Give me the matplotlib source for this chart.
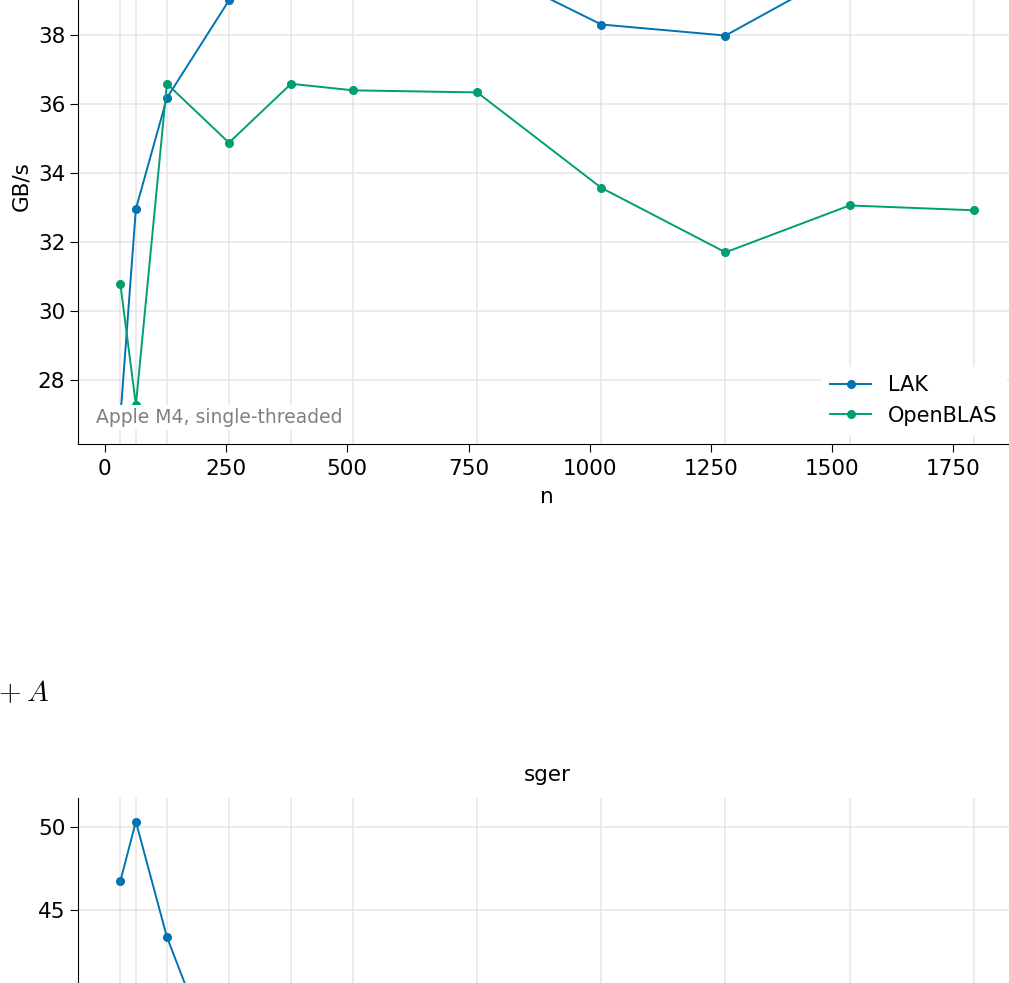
import matplotlib
matplotlib.use("Agg")
import matplotlib.pyplot as plt

# problem sizes
n = [32, 64, 128, 256, 384, 512, 768, 1024, 1280, 1536, 1792]

# sgemv throughput, GB/s (upper panel; top of it is outside the crop)
sgemv_lak = [26.9, 32.95, 36.17, 39.0, 40.3, 40.45, 40.08, 38.3, 37.98, 39.96, 40.2]
sgemv_openblas = [30.77, 27.26, 36.58, 34.87, 36.58, 36.39, 36.33, 33.56, 31.69, 33.05, 32.91]

# sger throughput, GB/s (lower panel; mostly outside the crop)
sger_lak = [46.75, 50.3, 43.4, 33.8, 31.5, 30.2, 29.0, 27.5, 26.8, 26.2, 25.9]
sger_openblas = [38.5, 39.6, 36.0, 31.0, 28.5, 27.6, 26.4, 25.0, 23.8, 23.1, 22.6]

series_names = ["LAK", "OpenBLAS"]
colors = ["#0173B2", "#029E73"]
note = "Apple M4, single-threaded"

W, H = 1009, 983
fs = 15.5
fig = plt.figure(figsize=(W / 100, H / 100), dpi=100)

ax_w = 938.7 / W
ax_h = 516.3 / H
ax1 = fig.add_axes([77.7 / W, (H - 444.3) / H, ax_w, ax_h])
ax2 = fig.add_axes([77.7 / W, (H - 797.7 - 516.3) / H, ax_w, ax_h])


def style(ax):
    for s in ("top", "right"):
        ax.spines[s].set_visible(False)
    ax.set_xticks(n, minor=True)
    ax.tick_params(axis="x", which="minor", length=0)
    ax.tick_params(which="major", labelsize=fs, length=5.5)
    ax.tick_params(axis="x", which="major", pad=5)
    ax.grid(True, which="minor", axis="x", color="#e5e5e5", lw=1.1)
    ax.grid(True, which="major", axis="y", color="#e5e5e5", lw=1.1)
    ax.set_axisbelow(True)
    ax.set_xlim(-56, 1880)


for ax, (lak, ob) in ((ax1, (sgemv_lak, sgemv_openblas)), (ax2, (sger_lak, sger_openblas))):
    style(ax)
    for vals, name, c in zip((lak, ob), series_names, colors):
        ax.plot(n, vals, marker="o", ms=5.5, lw=1.4, color=c, label=name)

ax1.set_ylim(26.12, 41.1)
ax1.set_ylabel("GB/s", fontsize=fs, labelpad=5)
ax1.set_xlabel("n", fontsize=fs, labelpad=6)
ax1.text(0.02, 0.034, note, transform=ax1.transAxes, ha="left", va="bottom",
         fontsize=13.5, color="gray",
         bbox=dict(facecolor="white", edgecolor="none", pad=2))
ax1.legend(loc="lower right", fontsize=15, framealpha=1, edgecolor="white")

ax2.set_ylim(20.87, 51.73)
ax2.set_title("sger", fontsize=fs, pad=12)

plt.rcParams["mathtext.fontset"] = "cm"
fig.text(49.5 / W, (H - 701.7) / H, r"$A \leftarrow \alpha x y^T + A$",
         ha="right", va="baseline", fontsize=21)

fig.savefig("out.png", dpi=100)
